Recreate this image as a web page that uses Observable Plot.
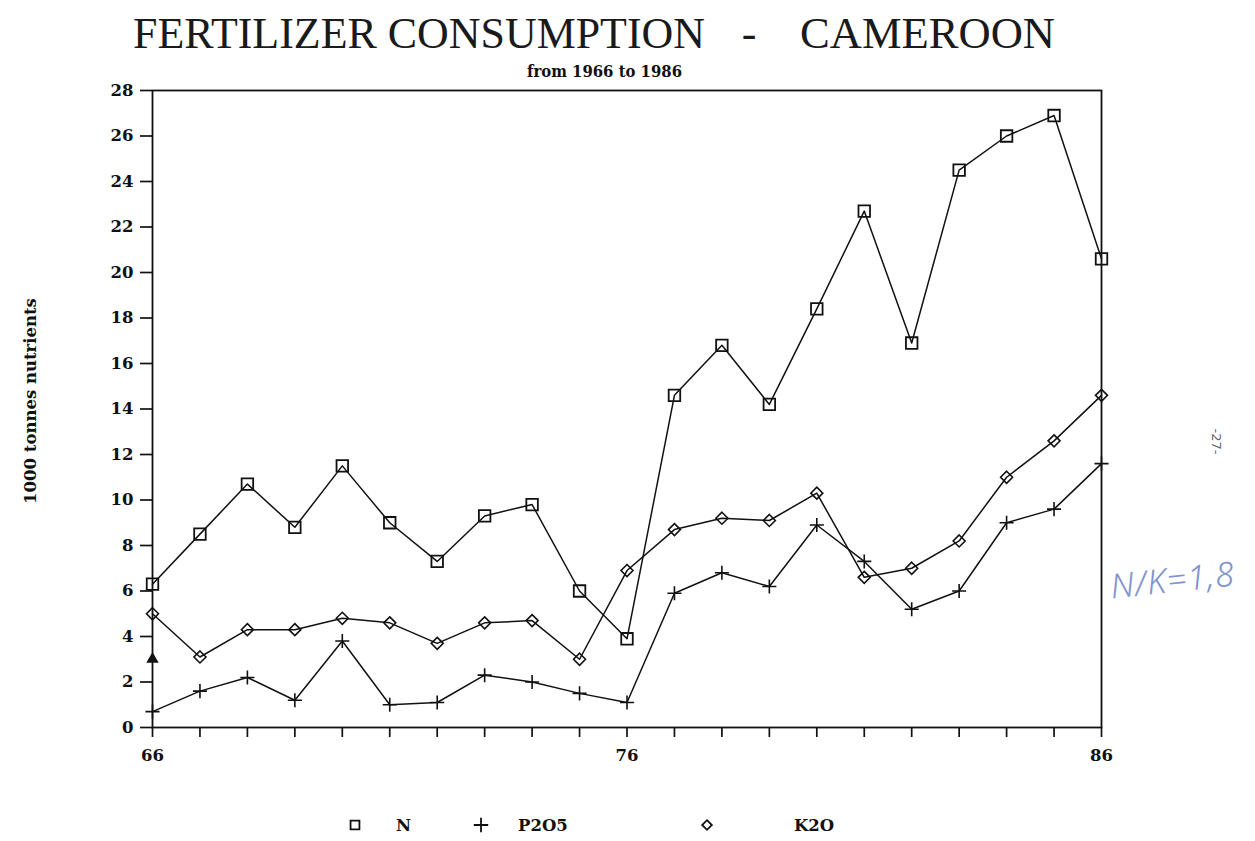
<!DOCTYPE html>
<html><head><meta charset="utf-8">
<script src="https://cdn.jsdelivr.net/npm/d3@7"></script>
<script src="https://cdn.jsdelivr.net/npm/@observablehq/plot@0.6"></script>
<style>
body{margin:0;background:#fff;width:1255px;height:841px;position:relative;overflow:hidden;font-family:"DejaVu Serif",serif;}
#chart{position:absolute;left:0;top:80px;}
#title{position:absolute;left:0;top:0;}
#legend{position:absolute;left:0;top:800px;}
#page{position:absolute;left:1204px;top:434px;font-family:"DejaVu Sans",sans-serif;font-size:13px;color:#666;transform:rotate(90deg);transform-origin:center;}
#note{position:absolute;left:1110px;top:556px;font-family:"Noto Sans",sans-serif;font-weight:300;font-style:italic;font-size:34px;color:#7f93cf;transform:rotate(-6deg);letter-spacing:1px;}
</style></head><body>
<svg id="title" width="1255" height="80">
  <text x="133" y="48" font-family="Liberation Serif" font-size="44" fill="#1a1a1a" textLength="572" lengthAdjust="spacingAndGlyphs">FERTILIZER CONSUMPTION</text>
  <text x="749" y="48" font-family="Liberation Serif" font-size="44" fill="#1a1a1a" text-anchor="middle">-</text>
  <text x="800" y="48" font-family="Liberation Serif" font-size="44" fill="#1a1a1a" textLength="255" lengthAdjust="spacingAndGlyphs">CAMEROON</text>
  <text x="527" y="77" font-family="DejaVu Serif" font-weight="bold" font-size="17" fill="#111" textLength="155" lengthAdjust="spacingAndGlyphs">from 1966 to 1986</text>
</svg>
<div id="chart"></div>
<svg id="legend" width="1255" height="41"></svg>
<div id="page">-27-</div>
<div id="note">N/K=1,8</div>
<script>
// ---- data ----
const years = [66,67,68,69,70,71,72,73,74,75,76,77,78,79,80,81,82,83,84,85,86];
const nValues    = [6.3, 8.5, 10.7, 8.8, 11.5, 9.0, 7.3, 9.3, 9.8, 6.0, 3.9, 14.6, 16.8, 14.2, 18.4, 22.7, 16.9, 24.5, 26.0, 26.9, 20.6];
const p2o5Values = [0.7, 1.6, 2.2, 1.2, 3.8, 1.0, 1.1, 2.3, 2.0, 1.5, 1.1, 5.9, 6.8, 6.2, 8.9, 7.3, 5.2, 6.0, 9.0, 9.6, 11.6];
const k2oValues  = [5.0, 3.1, 4.3, 4.3, 4.8, 4.6, 3.7, 4.6, 4.7, 3.0, 6.9, 8.7, 9.2, 9.1, 10.3, 6.6, 7.0, 8.2, 11.0, 12.6, 14.6];
const seriesNames = ["N", "P2O5", "K2O"];
const extraMarker = [{year: 66, value: 3.0}];
const yTicks = [0,2,4,6,8,10,12,14,16,18,20,22,24,26,28];
const xLabelYears = [66, 76, 86];
const yLabel = "1000 tonnes nutrients";

const toRows = vals => years.map((y, i) => ({year: y, value: vals[i]}));
const nRows = toRows(nValues), pRows = toRows(p2o5Values), kRows = toRows(k2oValues);

const font = "DejaVu Serif";
const chart = Plot.plot({
  width: 1255,
  height: 700,
  marginLeft: 152,
  marginRight: 154,
  marginTop: 10,
  marginBottom: 53,
  style: {fontFamily: font, fontSize: "16.5px", fontWeight: "bold", background: "transparent", color: "#111"},
  x: {domain: [66, 86]},
  y: {domain: [0, 28]},
  marks: [
    Plot.axisY({ticks: yTicks, tickSize: 12, tickPadding: 7, fontSize: 16.5, fontWeight: "bold", label: null, strokeWidth: 1.7}),
    Plot.axisX({ticks: years, tickSize: 10, tickPadding: 12, fontSize: 16.5, fontWeight: "bold", label: null, strokeWidth: 1.7,
      tickFormat: d => xLabelYears.includes(d) ? String(d) : ""}),
    Plot.frame({stroke: "#111", strokeWidth: 1.8}),
    Plot.text([yLabel], {frameAnchor: "left", textAnchor: "middle", rotate: -90, dx: -122, dy: -8, fontSize: 16.5, fontWeight: "bold", fill: "#111"}),
    Plot.line(nRows, {x: "year", y: "value", stroke: "#111", strokeWidth: 1.5}),
    Plot.line(pRows, {x: "year", y: "value", stroke: "#111", strokeWidth: 1.5}),
    Plot.line(kRows, {x: "year", y: "value", stroke: "#111", strokeWidth: 1.5}),
    Plot.dot(nRows, {x: "year", y: "value", symbol: "square", r: 6.5, fill: "none", stroke: "#111", strokeWidth: 1.8}),
    Plot.dot(pRows, {x: "year", y: "value", symbol: "plus", r: 4.6, stroke: "#111", strokeWidth: 1.6}),
    Plot.dot(kRows, {x: "year", y: "value", symbol: "diamond2", r: 5.4, fill: "none", stroke: "#111", strokeWidth: 1.6}),
    Plot.dot(extraMarker, {x: "year", y: "value", symbol: "triangle", r: 4.6, fill: "#111"})
  ]
});
document.getElementById("chart").appendChild(chart);

// ---- legend ----
const lg = d3.select("#legend");
const legendItems = [
  {name: seriesNames[0], sym: d3.symbolSquare2, size: 100, sx: 355, tx: 396},
  {name: seriesNames[1], sym: d3.symbolPlus, size: 70, sx: 481, tx: 518},
  {name: seriesNames[2], sym: d3.symbolDiamond2, size: 60, sx: 707, tx: 794}
];
legendItems.forEach(it => {
  lg.append("path").attr("d", d3.symbol(it.sym, it.size)())
    .attr("transform", `translate(${it.sx},25)`)
    .attr("fill", "none").attr("stroke", "#111").attr("stroke-width", 1.8);
  lg.append("text").attr("x", it.tx).attr("y", 31).text(it.name)
    .attr("font-family", font).attr("font-weight", "bold").attr("font-size", 16.5).attr("fill", "#111");
});
</script>
</body></html>
